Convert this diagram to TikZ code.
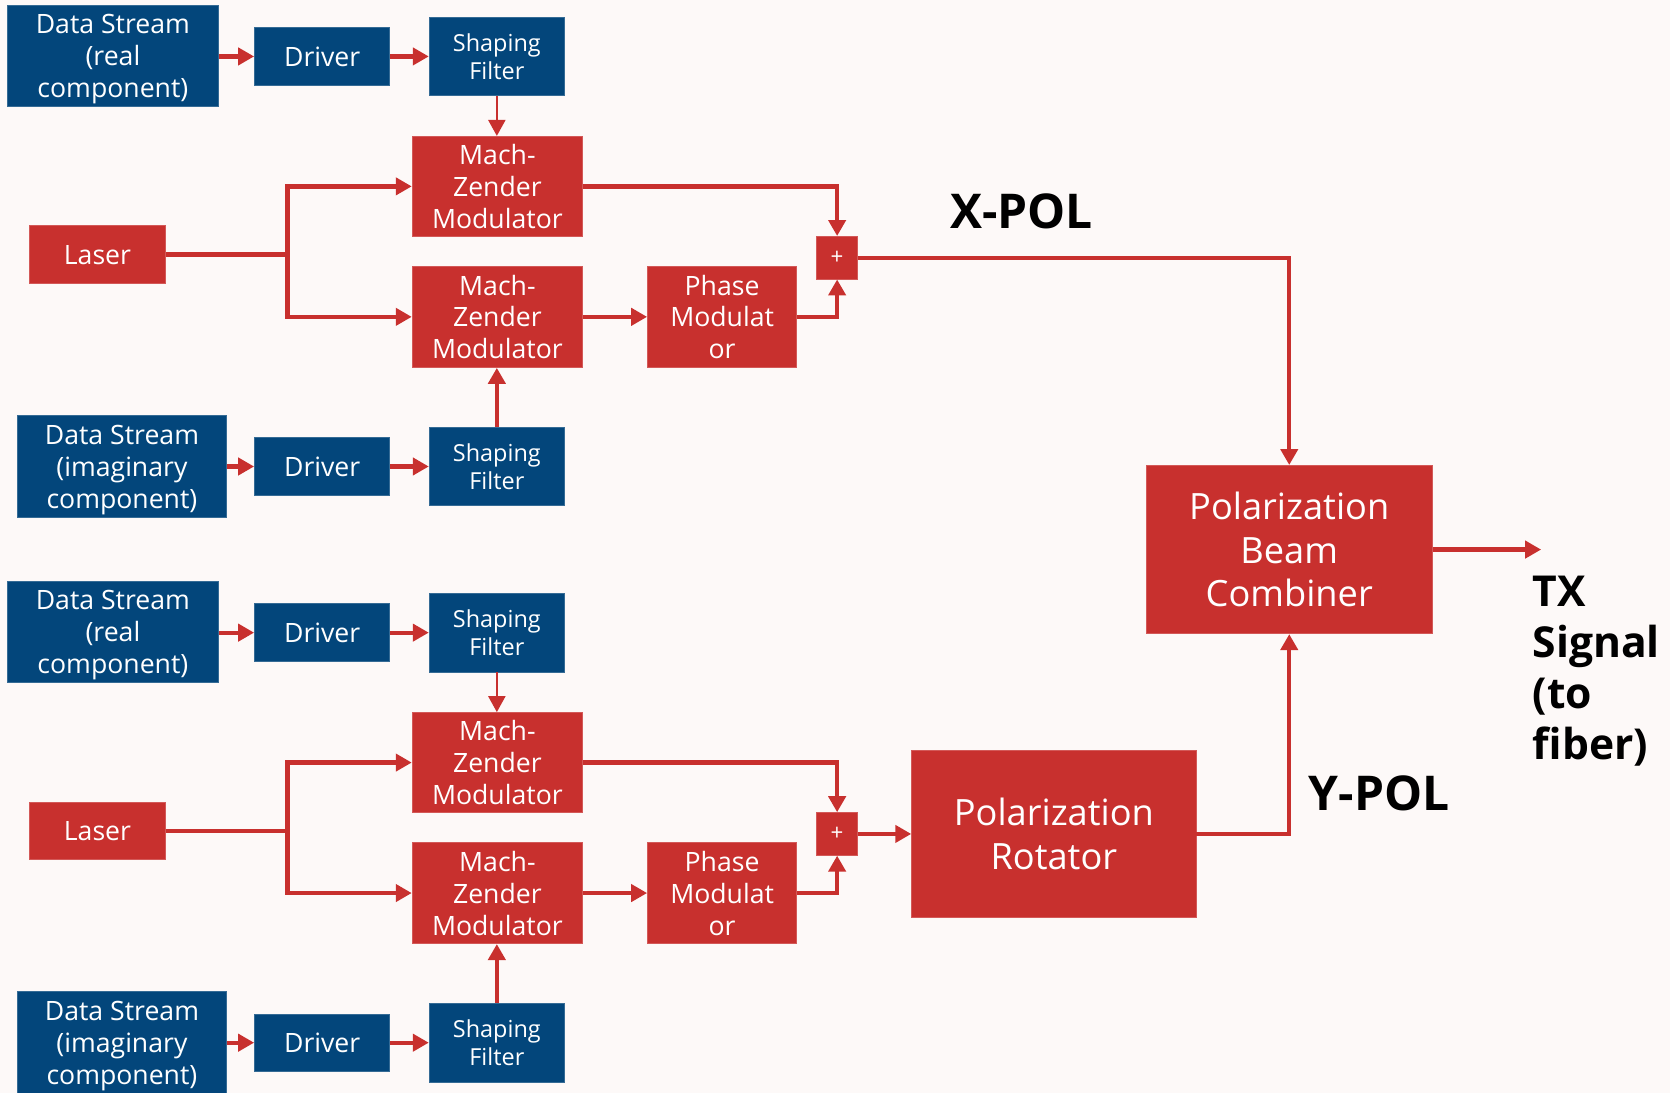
\documentclass[tikz,border=0pt]{standalone}
\usepackage{fontspec}
\setmainfont{Open Sans}
\usetikzlibrary{arrows.meta}
\definecolor{bluebox}{HTML}{03467B}
\definecolor{redbox}{HTML}{C8302E}
\definecolor{paper}{HTML}{FDF9F8}
\tikzset{
  box/.style={rectangle, inner sep=0pt, align=center, text=white, text depth=0pt, line width=0.4pt},
  bluebox/.style={box, fill=bluebox, draw=bluebox!80!white, font=\fontsize{12.5}{15}\selectfont},
  redblock/.style={box, fill=redbox, draw=redbox!80!white, font=\fontsize{12.5}{15}\selectfont},
  filterbox/.style={bluebox, font=\fontsize{11}{13}\selectfont},
  bigbox/.style={redblock, font=\fontsize{17}{20.5}\selectfont},
  sumbox/.style={redblock, font=\fontsize{10.5}{11}\selectfont, minimum width=19pt, minimum height=20pt},
  link/.style={draw=redbox, line width=2pt, -{Triangle[length=7.5pt,width=8pt]}},
  thinlink/.style={link, line width=1pt},
  wire/.style={draw=redbox, line width=2pt},
  pol/.style={font=\fontsize{22.5}{26}\selectfont\bfseries, text=black},
}
\begin{document}
\begin{tikzpicture}[x=0.5pt, y=-0.5pt]
  \fill[paper] (0,0) rectangle (1568,1026);
  \useasboundingbox (0,0) rectangle (1568,1026);

  % two identical IQ modulator chains, one per polarisation
  \foreach \g/\off in {x/0, y/541} {
    \node[bluebox, minimum width=99pt, minimum height=47.5pt] (\g dsr) at (106,{52.5+\off}) {Data Stream\\(real\\component)};
    \node[bluebox, minimum width=63.5pt, minimum height=27pt] (\g drvr) at (302.5,{53+\off}) {Driver};
    \node[filterbox, minimum width=63.5pt, minimum height=37pt] (\g sfr) at (466.5,{53+\off}) {Shaping\\Filter};
    \node[redblock, minimum width=80pt, minimum height=47pt] (\g mzi) at (467,{175+\off}) {Mach-\\Zender\\Modulator};
    \node[redblock, minimum width=63.5pt, minimum height=27pt] (\g laser) at (91.5,{239+\off}) {Laser};
    \node[redblock, minimum width=80pt, minimum height=47.5pt] (\g mzq) at (467,{297.5+\off}) {Mach-\\Zender\\Modulator};
    \node[redblock, minimum width=70pt, minimum height=47.5pt] (\g pm) at (678,{297.5+\off}) {Phase\\Modulat\\or};
    \node[sumbox] (\g sum) at (786,{242+\off}) {+};
    \node[bluebox, minimum width=98.5pt, minimum height=48pt] (\g dsi) at (114.5,{438+\off}) {Data Stream\\(imaginary\\component)};
    \node[bluebox, minimum width=63.5pt, minimum height=27pt] (\g drvi) at (302.5,{438+\off}) {Driver};
    \node[filterbox, minimum width=63.5pt, minimum height=37pt] (\g sfi) at (466.5,{438+\off}) {Shaping\\Filter};
    \coordinate (\g split) at (270,{239+\off});

    \draw[link] (\g dsr.east |- \g drvr) -- (\g drvr.west);
    \draw[link] (\g drvr.east) -- (\g sfr.west |- \g drvr);
    \draw[thinlink] (\g sfr.south) -- (\g sfr.south |- \g mzi.north);
    \draw[wire] (\g laser.east) -- (\g split);
    \draw[link] (\g split) |- (\g mzi.west);
    \draw[link] (\g split) |- (\g mzq.west);
    \draw[link] (\g mzi.east) -| (\g sum.north);
    \draw[link] (\g mzq.east) -- (\g pm.west);
    \draw[link] (\g pm.east) -| (\g sum.south);
    \draw[link] (\g dsi.east) -- (\g drvi.west);
    \draw[link] (\g drvi.east) -- (\g sfi.west);
    \draw[link] (\g sfi.north) -- (\g sfi.north |- \g mzq.south);
  }

  \node[bigbox, minimum width=134.5pt, minimum height=79pt] (pbc) at (1210.5,516) {Polarization\\Beam\\Combiner};
  \node[bigbox, minimum width=133.5pt, minimum height=78pt] (rot) at (989.5,783) {Polarization\\Rotator};
  \coordinate (txend) at (1447,516);

  \draw[link] (xsum.east) -| (pbc.north);
  \draw[link] (ysum.east) -- (rot.west);
  \draw[link] (rot.east) -| (pbc.south);
  \draw[link] (pbc.east) -- (txend);

  \node[pol] (xpol) at (959,198) {X-POL};
  \node[pol] (ypol) at (1295,745) {Y-POL};
  \node[pol, anchor=west, align=left, font=\fontsize{20}{24}\selectfont\bfseries] (tx) at (1432,630) {TX\\Signal\\(to\\fiber)};
\end{tikzpicture}
\end{document}
